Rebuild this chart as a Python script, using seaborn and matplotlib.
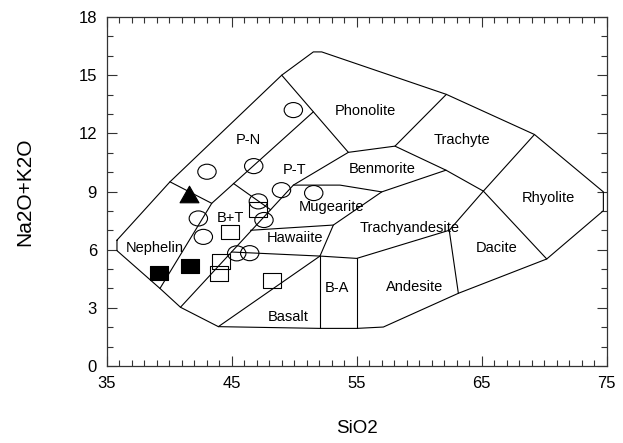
import numpy as np
import matplotlib
matplotlib.use("Agg")
import matplotlib.pyplot as plt
from matplotlib.path import Path
from matplotlib.ticker import MultipleLocator
import seaborn as sns

# TAS field boundaries (SiO2, Na2O+K2O)
outline_x = [35.82, 35.82, 39.26, 40.90, 43.93, 52.06, 55.00, 57.13, 63.13, 70.20,
             74.73, 74.73, 69.22, 62.17, 52.20, 51.53, 49.00, 40.06, 35.82]
outline_y = [6.49, 5.95, 4.00, 3.03, 2.03, 1.94, 1.94, 2.01, 3.75, 5.52,
             8.01, 8.98, 11.94, 14.01, 16.20, 16.20, 15.00, 9.50, 6.49]

inner_lines = [
    ([40.06, 43.40], [9.50, 8.39]),                 # P-N / Nephelin
    ([39.26, 43.40, 51.53], [4.00, 8.39, 13.11]),   # nephelinite column
    ([45.13, 48.11], [9.42, 8.06]),                 # P-T / B+T
    ([40.90, 49.93, 54.33], [3.03, 9.33, 11.02]),   # B+T right edge
    ([49.00, 54.33, 58.06, 62.17], [15.00, 11.02, 11.34, 14.01]),  # phonolite
    ([49.93, 53.66, 57.00, 62.14], [9.33, 9.33, 8.98, 10.10]),     # mugearite / benmorite top
    ([58.06, 62.14, 65.13, 69.22], [11.34, 10.10, 9.02, 11.94]),   # trachyte bottom
    ([65.13, 70.20], [9.02, 5.52]),                 # rhyolite / dacite
    ([65.13, 62.40, 63.13], [9.02, 7.00, 3.75]),    # dacite left
    ([46.50, 53.13, 57.00], [7.00, 7.27, 8.98]),    # hawaiite top, mugearite right
    ([53.13, 52.06], [7.27, 5.67]),                 # hawaiite right
    ([44.98, 52.06, 55.00, 62.40], [5.88, 5.67, 5.55, 7.00]),      # hawaiite / B-A / andesite top
    ([43.93, 52.06], [2.03, 5.67]),                 # basalt
    ([52.06, 52.06], [5.67, 1.94]),                 # B-A left
    ([55.00, 55.00], [5.55, 1.94]),                 # B-A right
]

field_names = ["Phonolite", "Trachyte", "P-N", "P-T", "Benmorite", "Rhyolite",
               "Mugearite", "B+T", "Nephelin", "Hawaiite", "Trachyandesite",
               "Dacite", "Andesite", "B-A", "Basalt"]
field_x = [55.66, 63.42, 46.30, 50.06, 57.02, 70.30, 53.02, 44.86, 38.86,
           50.06, 59.26, 66.22, 59.66, 53.42, 49.50]
field_y = [13.14, 11.65, 11.65, 10.10, 10.15, 8.66, 8.20, 7.63, 6.08,
           6.60, 7.11, 6.08, 4.07, 4.02, 2.53]

# samples
circle_x = [49.93, 43.02, 46.76, 48.98, 51.56, 47.13, 47.58, 42.33, 42.73, 45.40, 46.44]
circle_y = [13.20, 10.02, 10.31, 9.07, 8.92, 8.49, 7.53, 7.61, 6.66, 5.81, 5.82]
osq_x = [47.13, 44.86, 44.17, 44.01, 48.25]
osq_y = [8.09, 6.91, 5.40, 4.77, 4.40]
fsq_x = [39.20, 41.64]
fsq_y = [4.78, 5.18]
tri_x = [41.61]
tri_y = [8.89]

sns.set_theme(style="ticks")
plt.rcParams["font.family"] = ["Liberation Sans", "DejaVu Sans"]

fig = plt.figure(figsize=(6.23, 4.43), dpi=100)
ax = fig.add_axes([0.1713, 0.1738, 0.8026, 0.7878])

ax.plot(outline_x, outline_y, color="black", lw=0.8, zorder=2)
for lx, ly in inner_lines:
    ax.plot(lx, ly, color="black", lw=0.8, zorder=2)

for name, tx, ty in zip(field_names, field_x, field_y):
    ax.text(tx, ty, name, ha="center", va="center", fontsize=10.5, color="black", zorder=3)

# slightly wide markers like the original
ell = Path(Path.unit_circle().vertices * [1.22, 1.0], Path.unit_circle().codes)
rect = Path([(-0.6, -0.5), (0.6, -0.5), (0.6, 0.5), (-0.6, 0.5), (-0.6, -0.5)],
            [Path.MOVETO, Path.LINETO, Path.LINETO, Path.LINETO, Path.CLOSEPOLY])
tri = Path([(-0.57, -0.5), (0.57, -0.5), (0.0, 0.5), (-0.57, -0.5)],
           [Path.MOVETO, Path.LINETO, Path.LINETO, Path.CLOSEPOLY])

sns.scatterplot(x=circle_x, y=circle_y, marker=ell, s=175, facecolors="none",
                edgecolor="black", linewidth=0.8, ax=ax, zorder=4)
sns.scatterplot(x=osq_x, y=osq_y, marker=rect, s=165, facecolors="none",
                edgecolor="black", linewidth=0.8, ax=ax, zorder=4)
sns.scatterplot(x=fsq_x, y=fsq_y, marker=rect, s=155, color="black",
                edgecolor="black", linewidth=0.8, ax=ax, zorder=4)
sns.scatterplot(x=tri_x, y=tri_y, marker=tri, s=185, color="black",
                edgecolor="black", linewidth=0.8, ax=ax, zorder=4)

ax.set_xlim(35, 75)
ax.set_ylim(0, 18)
ax.set_xticks([35, 45, 55, 65, 75])
ax.set_yticks([0, 3, 6, 9, 12, 15, 18])
ax.xaxis.set_minor_locator(MultipleLocator(1))
ax.yaxis.set_minor_locator(MultipleLocator(1))
ax.tick_params(which="both", direction="in", top=True, right=True,
               color="#333333", width=0.8, labelsize=12, labelcolor="black")
ax.tick_params(which="major", length=7, pad=7)
ax.tick_params(which="minor", length=4)
for sp in ax.spines.values():
    sp.set_color("#333333")
    sp.set_linewidth(0.9)

ax.set_xlabel("SiO2", fontsize=13.5, color="black")
ax.set_ylabel("Na2O+K2O", fontsize=15, color="black")
ax.xaxis.set_label_coords(0.5, -0.155)
ax.yaxis.set_label_coords(-0.145, 0.5)

fig.savefig("out.png", dpi=100, facecolor="white")
